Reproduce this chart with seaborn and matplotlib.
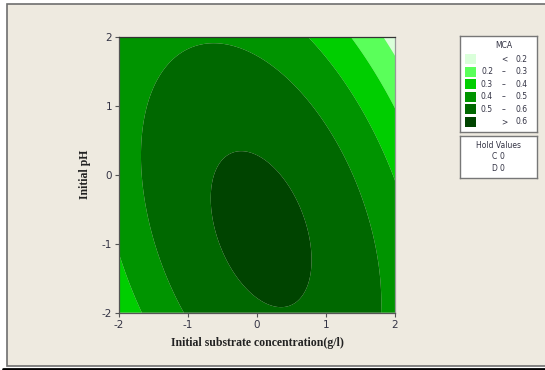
import numpy as np
import matplotlib
matplotlib.use("Agg")
import matplotlib.pyplot as plt
from matplotlib.patches import Rectangle
from matplotlib.lines import Line2D
import seaborn as sns

# coded factor range (A: initial substrate concentration, B: initial pH)
factor_a = np.linspace(-2, 2, 201)
factor_b = np.linspace(-2, 2, 201)

# quadratic response surface for MCA, hold values C = 0, D = 0
coef_const = 0.610
coef_a = -0.0134
coef_b = -0.0298
coef_aa = -0.0474
coef_bb = -0.0198
coef_ab = -0.0242

levels = [0.2, 0.3, 0.4, 0.5, 0.6]
level_labels = [("", "<", "0.2"), ("0.2", "\u2013", "0.3"), ("0.3", "\u2013", "0.4"),
                ("0.4", "\u2013", "0.5"), ("0.5", "\u2013", "0.6"), ("", ">", "0.6")]
colors = ["#DAFFDA", "#5AFF5A", "#00CE00", "#009400", "#006800", "#004400"]
hold_values = [("C", 0), ("D", 0)]

sns.set_theme(style="ticks")
plt.rcParams["font.family"] = ["DejaVu Sans"]
plt.rcParams["axes.unicode_minus"] = False

bg = "#EEEAE0"
fig = plt.figure(figsize=(5.45, 3.7), dpi=100, facecolor="white")
W, H = 545, 370

# outer frame
fig.patches.append(Rectangle((7 / W, 1 - 366 / H), (W + 10) / W, 362 / H,
                             transform=fig.transFigure, facecolor=bg,
                             edgecolor="#6E6E6E", linewidth=1.2, zorder=-5))
fig.lines.append(Line2D([3 / W, 1], [1 - 369 / H, 1 - 369 / H], transform=fig.transFigure,
                        color="black", linewidth=2.0, zorder=-4))

ax = fig.add_axes([119 / W, 1 - 312.7 / H, 276 / W, 276 / H])
A, B = np.meshgrid(factor_a, factor_b)
Z = (coef_const + coef_a * A + coef_b * B + coef_aa * A ** 2
     + coef_bb * B ** 2 + coef_ab * A * B)
ax.contourf(A, B, Z, levels=[-10] + levels + [10], colors=colors, antialiased=True)
ax.patch.set_alpha(0)

ax.set_xlim(-2, 2)
ax.set_ylim(-2, 2)
ax.set_xticks([-2, -1, 0, 1, 2])
ax.set_yticks([-2, -1, 0, 1, 2])
ax.tick_params(labelsize=7.5, length=3, width=0.8, color="#555555",
               labelcolor="#333344", pad=2)
for s in ax.spines.values():
    s.set_color("#555555")
    s.set_linewidth(0.9)
ax.spines["top"].set_color("#333333")
ax.spines["right"].set_color("#999999")
ax.set_xlabel("Initial substrate concentration(g/l)", family="Liberation Serif",
              fontweight="bold", fontsize=8.5, color="#222222", labelpad=5)
ax.set_ylabel("Initial pH", family="Liberation Serif", fontweight="bold",
              fontsize=8.5, color="#222222", labelpad=8)

# legend box
lg = fig.add_axes([460 / W, 1 - 132 / H, 77 / W, 96 / H])
lg.set_xlim(0, 77)
lg.set_ylim(96, 0)
lg.set_xticks([])
lg.set_yticks([])
lg.set_facecolor("white")
for s in lg.spines.values():
    s.set_color("#777777")
    s.set_linewidth(1.0)
fs = 5.5
lg.text(44, 9, "MCA", ha="center", va="center", fontsize=fs, color="#333344")
for i, (col, (lo, sep, hi)) in enumerate(zip(colors, level_labels)):
    yc = 23 + 12.6 * i
    lg.add_patch(Rectangle((5, yc - 5), 11, 10, facecolor=col, edgecolor="none"))
    if lo:
        lg.text(33, yc, lo, ha="right", va="center", fontsize=fs, color="#333344")
    lg.text(44, yc, sep, ha="center", va="center", fontsize=fs, color="#333344")
    lg.text(68, yc, hi, ha="right", va="center", fontsize=fs, color="#333344")

hv = fig.add_axes([460 / W, 1 - 178 / H, 77 / W, 42 / H])
hv.set_xlim(0, 77)
hv.set_ylim(42, 0)
hv.set_xticks([])
hv.set_yticks([])
hv.set_facecolor("white")
for s in hv.spines.values():
    s.set_color("#777777")
    s.set_linewidth(1.0)
hv.text(39, 9, "Hold Values", ha="center", va="center", fontsize=fs, color="#333344")
for i, (name, val) in enumerate(hold_values):
    yc = 20.7 + 11.6 * i
    hv.text(34, yc, name, ha="center", va="center", fontsize=fs, color="#333344")
    hv.text(42, yc, str(val), ha="center", va="center", fontsize=fs, color="#333344")

fig.savefig("out.png", dpi=100, facecolor="white")
